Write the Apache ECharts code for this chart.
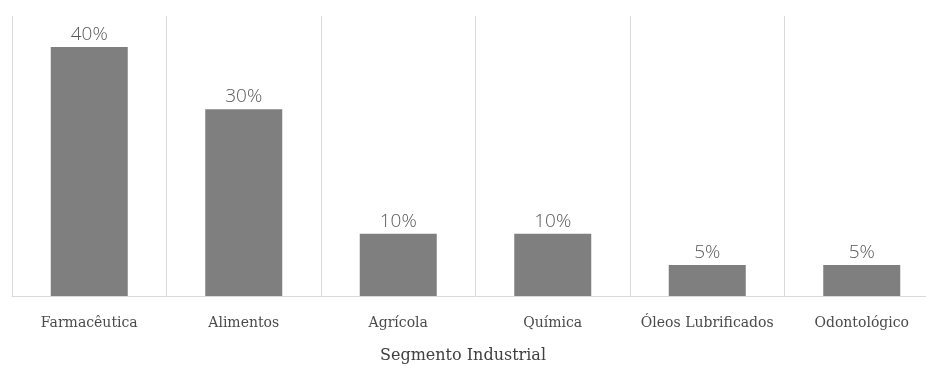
<!DOCTYPE html>
<html><head><meta charset="utf-8">
<script src="https://cdn.jsdelivr.net/npm/echarts@6/dist/echarts.min.js"></script>
<style>html,body{margin:0;padding:0;background:#fff;overflow:hidden}#c{width:940px;height:367px}</style>
</head><body><div id="c"></div>
<script>
const categories = ['Farmacêutica', 'Alimentos', 'Agrícola', 'Química', 'Óleos Lubrificados', 'Odontológico'];
const values = [40, 30, 10, 10, 5, 5];
const axisTitle = 'Segmento Industrial';

const chart = echarts.init(document.getElementById('c'), null, {renderer: 'canvas'});
chart.setOption({
  animation: false,
  title: {
    text: axisTitle, left: 458, top: 343, textAlign: 'center',
    textStyle: {fontFamily: 'DejaVu Serif', fontWeight: 'normal', fontSize: 16, color: '#404040'}
  },
  grid: {left: 12, top: 16, width: 927, height: 280, outerBoundsMode: 'none', containLabel: false},
  xAxis: {
    type: 'category',
    data: categories,
    axisLine: {lineStyle: {color: '#d9d9d9', width: 1}},
    axisTick: {show: false},
    axisLabel: {fontFamily: 'DejaVu Serif', fontSize: 14, color: '#4a4a4a', margin: 20, interval: 0},
    splitLine: {show: true, lineStyle: {color: '#d9d9d9', width: 1}}
  },
  yAxis: {type: 'value', min: 0, max: 45, show: false},
  series: [{
    type: 'bar',
    data: values,
    barWidth: 77,
    itemStyle: {color: '#7f7f7f'},
    label: {
      show: true, position: 'top', distance: 3,
      formatter: p => p.value + '%',
      fontFamily: 'Open Sans', fontWeight: 300, fontSize: 19, color: '#595959'
    }
  }]
});
</script></body></html>
